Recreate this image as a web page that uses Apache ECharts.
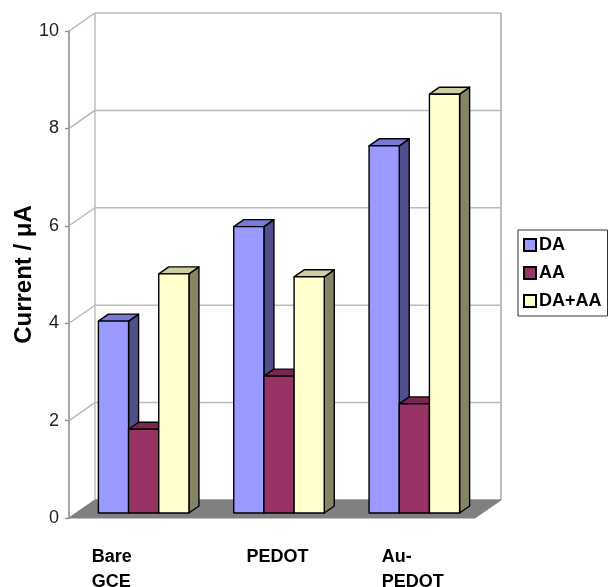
<!DOCTYPE html>
<html><head><meta charset="utf-8">
<script src="https://cdn.jsdelivr.net/npm/echarts@6/dist/echarts.min.js"></script>
<style>html,body{margin:0;padding:0;background:#fff}#c{width:611px;height:587px}</style>
</head><body><div id="c"></div>
<script>
const categories = ['Bare\nGCE', 'PEDOT', 'Au-\nPEDOT'];
const seriesNames = ['DA', 'AA', 'DA+AA'];
const daValues = [3.94, 5.88, 7.54];
const aaValues = [1.72, 2.81, 2.24];
const daAaValues = [4.91, 4.85, 8.60];
const yTicks = [0, 2, 4, 6, 8, 10];

const FONT = 'Liberation Sans, Arial, sans-serif';
const faceColors = [
  { front: '#9999FF', top: '#7878D8', side: '#4F4F8C' },
  { front: '#993366', top: '#7A2450', side: '#5E1E3E' },
  { front: '#FFFFCC', top: '#CFCDA2', side: '#858566' }
];
// depth offsets (oblique projection)
const WALL_DX = 26, WALL_DY = -18;
const BAR_PLANE_DX = 7, BAR_PLANE_DY = -5;
const BAR_DX = 10, BAR_DY = -7;

function barRenderer(sIdx) {
  return function (params, api) {
    const c = api.value(0), v = api.value(1);
    const base = api.coord([c, 0]);
    const top = api.coord([c, v]);
    const catW = api.size([1, 0])[0];
    const bw = catW * 0.223;
    const x0 = base[0] + BAR_PLANE_DX + (sIdx - 1.5) * bw;
    const x1 = x0 + bw;
    const yb = base[1] + BAR_PLANE_DY;
    const yt = top[1] + BAR_PLANE_DY;
    const col = faceColors[sIdx];
    const ls = { stroke: '#000', lineWidth: 1.4, lineJoin: 'round' };
    return {
      type: 'group',
      children: [
        { type: 'polygon', shape: { points: [[x1, yb], [x1 + BAR_DX, yb + BAR_DY], [x1 + BAR_DX, yt + BAR_DY], [x1, yt]] },
          style: Object.assign({ fill: col.side }, ls) },
        { type: 'polygon', shape: { points: [[x0, yt], [x1, yt], [x1 + BAR_DX, yt + BAR_DY], [x0 + BAR_DX, yt + BAR_DY]] },
          style: Object.assign({ fill: col.top }, ls) },
        { type: 'rect', shape: { x: x0, y: yt, width: bw, height: yb - yt },
          style: Object.assign({ fill: col.front }, ls) }
      ]
    };
  };
}

function wallRenderer(params, api) {
  const cs = params.coordSys;
  const v = api.value(0);
  const p = api.coord([0, v]);
  const y = p[1];
  const xl = cs.x, xr = cs.x + cs.width;
  const children = [];
  children.push({ type: 'line', shape: { x1: xl, y1: y, x2: xl + WALL_DX, y2: y + WALL_DY },
    style: { stroke: '#b4b4b4', lineWidth: 1.3 } });
  children.push({ type: 'line', shape: { x1: xl + WALL_DX, y1: y + WALL_DY, x2: xr + WALL_DX, y2: y + WALL_DY },
    style: { stroke: '#bcbcbc', lineWidth: 1.5 } });
  if (params.dataIndex === 0) {
    const yTop = cs.y + WALL_DY;
    children.push({ type: 'line', shape: { x1: xl + WALL_DX, y1: yTop, x2: xl + WALL_DX, y2: y + WALL_DY },
      style: { stroke: '#b4b4b4', lineWidth: 1.3 } });
    children.push({ type: 'line', shape: { x1: xr + WALL_DX, y1: yTop, x2: xr + WALL_DX, y2: y + WALL_DY },
      style: { stroke: '#a8a8a8', lineWidth: 1.5 } });
    children.push({ type: 'polygon', shape: { points: [[xl, y], [xr, y], [xr + WALL_DX, y + WALL_DY], [xl + WALL_DX, y + WALL_DY]] },
      style: { fill: '#808080', stroke: '#808080', lineWidth: 1 }, z2: 5 });
  }
  return { type: 'group', children: children };
}

const valueSets = [daValues, aaValues, daAaValues];
const series = [{
  type: 'custom', name: 'walls', silent: true, z: 1,
  renderItem: wallRenderer,
  data: yTicks.map(v => [v])
}];
valueSets.forEach((vals, s) => {
  series.push({
    type: 'custom', name: seriesNames[s], z: 3,
    itemStyle: { color: faceColors[s].front, borderColor: '#000', borderWidth: 1 },
    renderItem: barRenderer(s),
    encode: { x: 0, y: 1 },
    data: vals.map((v, i) => [i, v])
  });
});

const chart = echarts.init(document.getElementById('c'), null, { renderer: 'canvas' });
chart.setOption({
  animation: false,
  backgroundColor: '#fff',
  grid: { left: 69, top: 31, width: 406, height: 487, containLabel: false, outerBoundsMode: 'none' },
  legend: {
    data: seriesNames, orient: 'vertical', left: 518, top: 230,
    icon: 'rect', itemWidth: 12, itemHeight: 12, itemGap: 10,
    padding: [6, 6, 6, 5], borderColor: '#333', borderWidth: 1, backgroundColor: '#fff',
    textStyle: { fontFamily: FONT, fontSize: 18, fontWeight: 'bold', color: '#000', padding: [0, 0, 0, -2] },
    selectedMode: false
  },
  xAxis: {
    type: 'category', data: categories,
    axisLine: { show: false }, axisTick: { show: false }, splitLine: { show: false },
    axisLabel: {
      margin: 27, interval: 0, fontFamily: FONT, fontSize: 18, fontWeight: 'bold', color: '#000',
      lineHeight: 25,
      formatter: function (val, idx) {
        const key = idx === 0 ? 'w' : 'n';
        return val.split('\n').map(l => '{' + key + '|' + l + '}').join('\n');
      },
      rich: {
        w: { width: 90, align: 'left', fontFamily: FONT, fontSize: 18, fontWeight: 'bold', color: '#000', lineHeight: 25 },
        n: { width: 51, align: 'left', fontFamily: FONT, fontSize: 18, fontWeight: 'bold', color: '#000', lineHeight: 25 }
      }
    }
  },
  yAxis: {
    type: 'value', min: 0, max: 10, interval: 2,
    name: 'Current / \u03bcA', nameLocation: 'middle', nameGap: 33, nameMoveOverlap: false,
    nameTextStyle: { fontFamily: FONT, fontSize: 24, fontWeight: 'bold', color: '#000' },
    axisLine: { show: true, lineStyle: { color: '#8a8a8a', width: 1.5 } },
    axisTick: { show: true, length: 4, lineStyle: { color: '#8a8a8a', width: 1.3 } },
    splitLine: { show: false },
    axisLabel: { margin: 10, fontFamily: FONT, fontSize: 18, color: '#222' }
  },
  series: series
});
</script></body></html>
